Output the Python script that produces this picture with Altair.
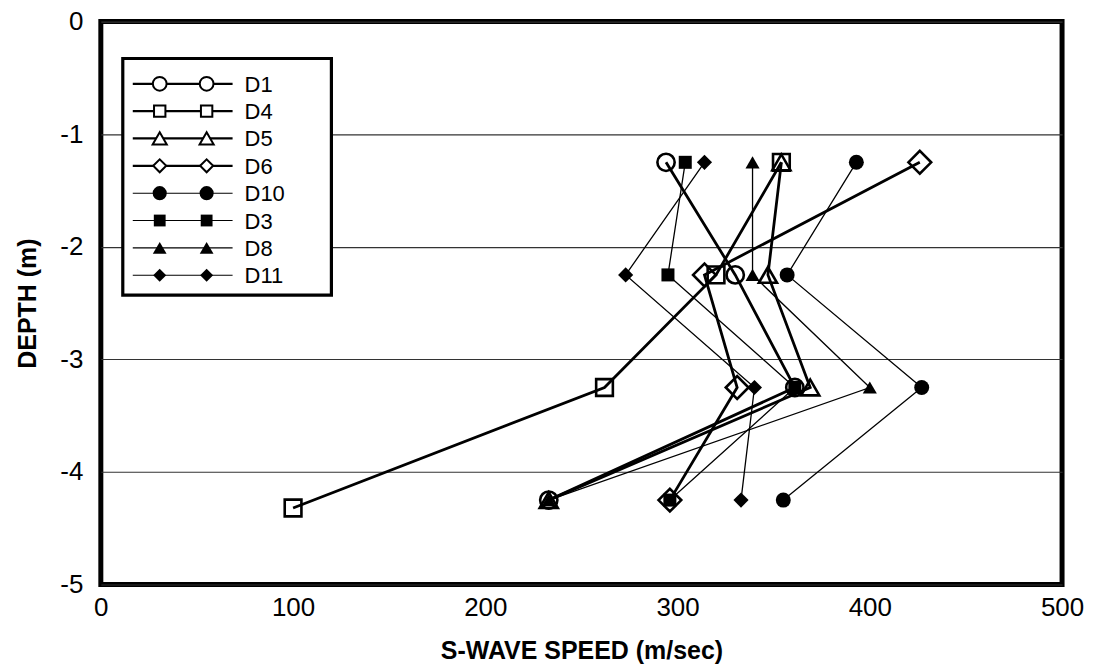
import altair as alt
import pandas as pd

# ---------------- data ----------------
series = ["D1", "D4", "D5", "D6", "D10", "D3", "D8", "D11"]
depth = [-1.25, -2.25, -3.25, -4.25]
depth_d4 = [-1.25, -2.25, -3.25, -4.32]

speed_d1 = [294, 330, 361, 233]
speed_d4 = [354, 320, 262, 100]
speed_d5 = [354, 347, 369, 233]
speed_d6 = [426, 314, 331, 296]
speed_d10 = [393, 357, 427, 355]
speed_d3 = [304, 295, 361, 296]
speed_d8 = [339, 339, 400, 233]
speed_d11 = [314, 273, 340, 333]

x_ticks = [0, 100, 200, 300, 400, 500]
y_ticks = [0, -1, -2, -3, -4, -5]

# ---------------- styles ----------------
shapes = {"D1": "circle", "D4": "square", "D5": "triangle-up", "D6": "diamond",
          "D10": "circle", "D3": "square", "D8": "triangle-up", "D11": "diamond"}
is_open = {"D1": True, "D4": True, "D5": True, "D6": True,
           "D10": False, "D3": False, "D8": False, "D11": False}
marker_size = {"D1": 300, "D4": 280, "D5": 330, "D6": 520,
               "D10": 225, "D3": 170, "D8": 200, "D11": 230}
legend_marker_size = {"D1": 190, "D4": 130, "D5": 200, "D6": 170,
                      "D10": 200, "D3": 140, "D8": 190, "D11": 170}
line_width = {s: (2.8 if is_open[s] else 1.3) for s in series}

speeds = {"D1": speed_d1, "D4": speed_d4, "D5": speed_d5, "D6": speed_d6,
          "D10": speed_d10, "D3": speed_d3, "D8": speed_d8, "D11": speed_d11}

rows = []
for s in series:
    dd = depth_d4 if s == "D4" else depth
    for i, (v, d) in enumerate(zip(speeds[s], dd)):
        rows.append({"series": s, "idx": i, "speed": v, "depth": d,
                     "lw": line_width[s], "ms": marker_size[s]})
df = pd.DataFrame(rows)

FONT = "Liberation Sans"
W, H = 963, 564

shape_scale = alt.Scale(domain=series, range=[shapes[s] for s in series])

x_enc = alt.X("speed:Q", scale=alt.Scale(domain=[0, 500], nice=False),
              axis=alt.Axis(values=x_ticks, title="S-WAVE SPEED (m/sec)", grid=False,
                            ticks=False, domain=False, labelFontSize=26, labelPadding=10,
                            labelFont=FONT, labelColor="black", titleFont=FONT,
                            titleFontSize=25, titleFontWeight="bold", titleColor="black",
                            titleX=W / 2, titleY=66, titleBaseline="middle",
                            labelFlush=False, labelExpr="toString(datum.value)"))
y_enc = alt.Y("depth:Q", scale=alt.Scale(domain=[-5, 0], nice=False),
              axis=alt.Axis(values=y_ticks, title="DEPTH (m)", grid=True,
                            gridColor="#333333", gridWidth=1.1, ticks=False, domain=False,
                            labelFontSize=26, labelPadding=18, labelFont=FONT,
                            labelColor="black", titleFont=FONT, titleFontSize=25,
                            titleFontWeight="bold", titleColor="black", titleAngle=-90,
                            titleX=-73, titleY=H / 2, titleBaseline="middle",
                            titleAlign="center", labelFlush=False,
                            labelExpr="toString(datum.value)"))

lines = alt.Chart(df).mark_line(color="black").encode(
    x=x_enc, y=y_enc, detail="series:N", order="idx:Q",
    strokeWidth=alt.StrokeWidth("lw:Q", scale=None),
)

open_pts = alt.Chart(df[df["series"].map(is_open)]).mark_point(
    filled=False, color="black", strokeWidth=2.6, opacity=1
).encode(
    x="speed:Q", y="depth:Q",
    shape=alt.Shape("series:N", scale=shape_scale, legend=None),
    size=alt.Size("ms:Q", scale=None),
)
filled_pts = alt.Chart(df[~df["series"].map(is_open)]).mark_point(
    filled=True, color="black", opacity=1
).encode(
    x="speed:Q", y="depth:Q",
    shape=alt.Shape("series:N", scale=shape_scale, legend=None),
    size=alt.Size("ms:Q", scale=None),
)

# ---------------- hand-made legend (pixel layout inside plot area) ----------------
LEG_TOP, ROW = 62.3, 27.4
leg = pd.DataFrame({
    "series": series,
    "ly": [LEG_TOP + ROW * i for i in range(len(series))],
    "lw": [line_width[s] * 0.8 for s in series],
    "ms": [legend_marker_size[s] for s in series],
    "open": [is_open[s] for s in series],
})

box = alt.Chart(pd.DataFrame({"a": [0]})).mark_rect(
    fill="white", stroke="black", strokeWidth=3.2
).encode(x=alt.value(22), x2=alt.value(231), y=alt.value(37), y2=alt.value(274))

leg_lines = alt.Chart(leg).mark_rule(color="black").encode(
    x=alt.value(32), x2=alt.value(132), y=alt.Y("ly:Q", scale=None),
    strokeWidth=alt.StrokeWidth("lw:Q", scale=None),
)

leg_layers = [box, leg_lines]
for xpos in (59, 106):
    leg_layers.append(alt.Chart(leg[leg["open"]]).mark_point(
        filled=True, fill="white", stroke="black", strokeWidth=2, opacity=1
    ).encode(x=alt.value(xpos), y=alt.Y("ly:Q", scale=None),
             shape=alt.Shape("series:N", scale=shape_scale, legend=None),
             size=alt.Size("ms:Q", scale=None)))
    leg_layers.append(alt.Chart(leg[~leg["open"]]).mark_point(
        filled=True, color="black", opacity=1
    ).encode(x=alt.value(xpos), y=alt.Y("ly:Q", scale=None),
             shape=alt.Shape("series:N", scale=shape_scale, legend=None),
             size=alt.Size("ms:Q", scale=None)))

leg_text = alt.Chart(leg).mark_text(
    align="left", baseline="middle", font=FONT, fontSize=22, color="black", dy=1
).encode(x=alt.value(144), y=alt.Y("ly:Q", scale=None), text="series:N")
leg_layers.append(leg_text)

chart = alt.layer(lines, open_pts, filled_pts, *leg_layers).properties(
    width=W, height=H,
    autosize=alt.AutoSizeParams(type="none"),
    padding={"left": 93, "top": 13, "right": 30, "bottom": 81},
).configure(
    background="white",
    view=alt.ViewConfig(stroke="black", strokeWidth=5),
)

chart.save("out.html", embed_options={"renderer": "svg", "actions": False})
